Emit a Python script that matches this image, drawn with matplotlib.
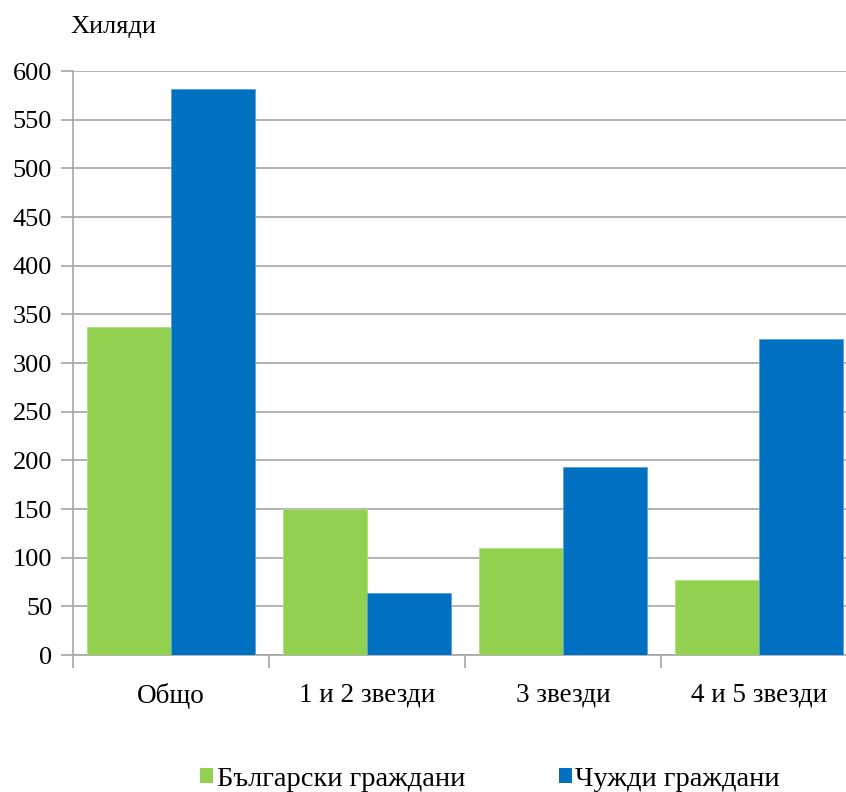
import numpy as np
import matplotlib.pyplot as plt
from matplotlib.patches import Patch

categories = ['Общо', '1 и 2 звезди', '3 звезди', '4 и 5 звезди']
bulgarian = [337, 150, 110, 77]
foreign = [581, 64, 193, 325]
series_names = ['Български граждани', 'Чужди граждани']

green = '#92D050'
blue = '#0070C0'
grid_col = '#a6a6a6'
fs = 19
fam = 'Liberation Serif'

plt.rcParams['font.family'] = fam

fig = plt.figure(figsize=(8.46, 7.92), dpi=100)
# axes run past the right border of the picture, as in the original
ax = fig.add_axes([73 / 846, 137 / 792, 784 / 846, 584 / 792])

x = np.arange(len(categories))
w = 0.4286
ax.bar(x - w / 2, bulgarian, width=w, color=green, edgecolor='#b0e080', linewidth=0.6, zorder=3)
ax.bar(x + w / 2, foreign, width=w, color=blue, edgecolor='#5aa0e0', linewidth=0.6, zorder=3)

ax.set_xlim(-0.5, 3.5)
ax.set_ylim(0, 600)
ax.set_yticks(np.arange(0, 601, 50))
ax.yaxis.grid(True, color=grid_col, linewidth=1.2, zorder=0)

ax.set_xticks(x)
ax.set_xticklabels(categories, fontsize=19.5, family=fam)
ax.tick_params(axis='x', length=0, pad=20)
ax.set_xticks(np.arange(-0.5, 4, 1), minor=True)
ax.tick_params(axis='x', which='minor', length=9, color=grid_col, width=1.2)
ax.tick_params(axis='y', labelsize=fs, length=9, color=grid_col, width=1.2, pad=6)
plt.setp(ax.get_yticklabels(), family=fam)

for s in ['top', 'right']:
    ax.spines[s].set_visible(False)
ax.spines['left'].set_color(grid_col)
ax.spines['left'].set_linewidth(1.2)
ax.spines['bottom'].set_color(grid_col)
ax.spines['bottom'].set_linewidth(1.2)

fig.text(70 / 846, 1 - 27 / 792, 'Хиляди', fontsize=fs, family=fam, va='center', ha='left')

handles = [Patch(facecolor=green), Patch(facecolor=blue)]
fig.legend(handles, series_names, loc='center', bbox_to_anchor=(490 / 846, 1 - 779 / 792),
           ncol=2, frameon=False, prop={'family': fam, 'size': 20.5}, handlelength=0.45,
           handleheight=0.45, handletextpad=0.12, columnspacing=3.3)

fig.savefig('out.png', dpi=100)
